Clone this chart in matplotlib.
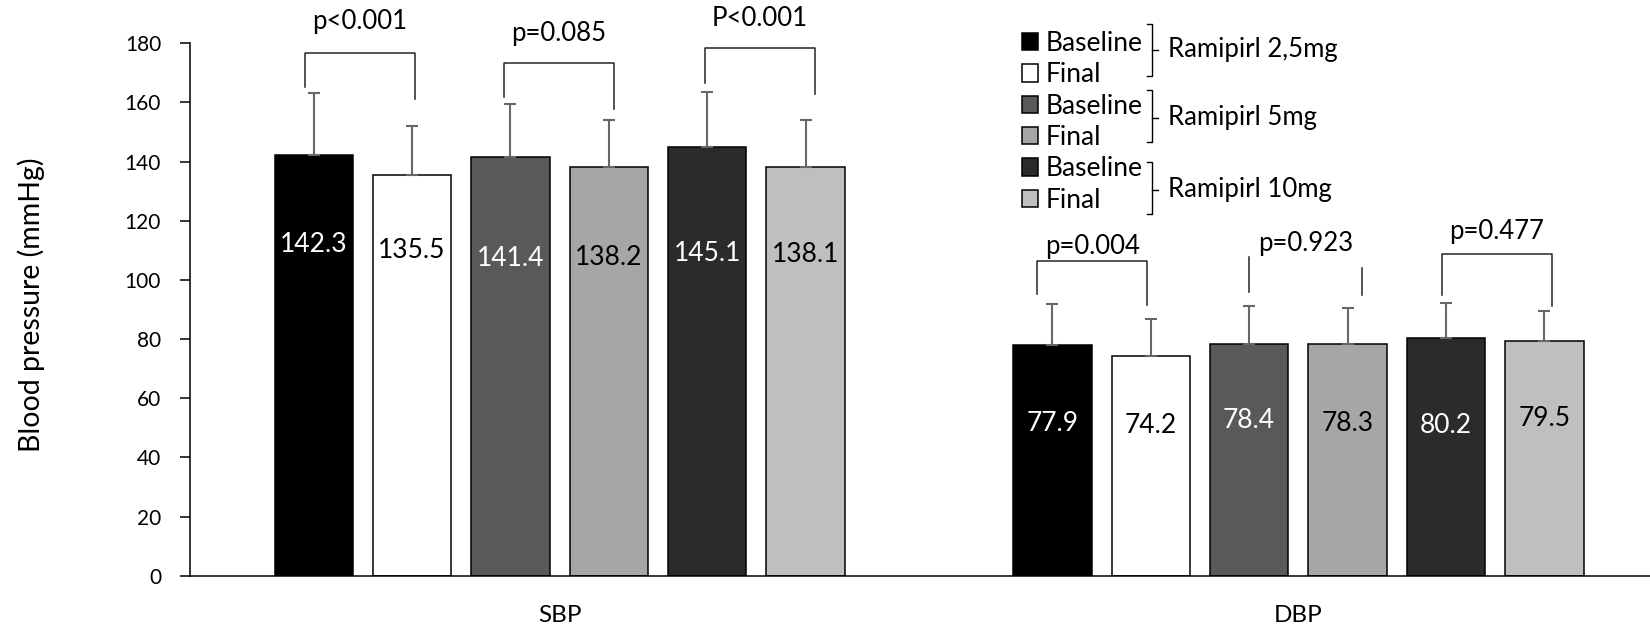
import matplotlib
matplotlib.use('Agg')
import matplotlib.pyplot as plt
from matplotlib.lines import Line2D
from matplotlib.patches import Patch
import numpy as np

plt.rcParams['font.family'] = ['Lato', 'DejaVu Sans']

# data
categories = ['SBP', 'DBP']
series = ['Baseline', 'Final', 'Baseline', 'Final', 'Baseline', 'Final']
doses = ['Ramipirl 2,5mg', 'Ramipirl 5mg', 'Ramipirl 10mg']
sbp_mean = [142.3, 135.5, 141.4, 138.2, 145.1, 138.1]
sbp_sd = [20.8, 16.7, 18.0, 15.8, 18.6, 15.9]
dbp_mean = [77.9, 74.2, 78.4, 78.3, 80.2, 79.5]
dbp_sd = [13.9, 12.6, 12.7, 12.3, 12.1, 10.1]
p_labels = ['p<0.001', 'p=0.085', 'P<0.001', 'p=0.004', 'p=0.923', 'p=0.477']

colors = ['#000000', '#ffffff', '#595959', '#a6a6a6', '#2b2b2b', '#bfbfbf']
text_colors = ['white', 'black', 'white', 'black', 'white', 'black']

W, H = 1650, 631
fig = plt.figure(figsize=(W / 100, H / 100), dpi=100)
ax = fig.add_axes([190.3 / W, 1 - 575.7 / H, (W - 190.3) / W, (575.7 - 43.3) / H])

means = np.array([sbp_mean, dbp_mean])
sds = np.array([sbp_sd, dbp_sd])
cat_x = np.arange(len(categories))
step = 0.1332
width = 0.106

# label heights inside the bars (hand placed in the original)
label_y = [[111.9, 109.8, 107.3, 107.6, 108.8, 108.7],
           [51.6, 50.9, 52.4, 51.6, 50.9, 53.1]]

for i in range(6):
    xs = cat_x + (i - 2.5) * step
    ax.bar(xs, means[:, i], width, color=colors[i], edgecolor='black', linewidth=1.1, zorder=2)
    ax.errorbar(xs, means[:, i], yerr=[np.zeros(2), sds[:, i]], fmt='none',
                ecolor='#676767', elinewidth=1.5, capsize=4.4, capthick=1.5, zorder=3)
    for c in range(2):
        ax.text(xs[c], label_y[c][i], f'{means[c, i]:.1f}', ha='center', va='center',
                fontsize=19, color=text_colors[i], zorder=4)

# significance brackets
leg_off_l = np.array([-8.7, -6.6, -2.3, -15.0, -0.6, -4.0]) / 738.8
leg_off_r = np.array([3.3, 5.0, 9.6, -4.0, 14.6, 7.7]) / 738.8
bot_l = [165.1, 161.7, 166.7, 95.2, 95.9, 94.9]
bot_r = [161.0, 157.8, 162.8, 91.5, 94.8, 91.2]
top_l = [176.8, 173.4, 178.5, 106.4, 107.8, 108.8]
top_r = [176.8, 173.4, 178.5, 106.4, 103.9, 108.8]
bridge = [True, True, True, True, False, True]
p_y = [187.3, 183.4, 188.4, 111.2, 112.4, 116.3]

for k in range(6):
    c = k // 3
    j = k % 3
    xl = cat_x[c] + (2 * j - 2.5) * step + leg_off_l[k]
    xr = cat_x[c] + (2 * j + 1 - 2.5) * step + leg_off_r[k]
    if bridge[k]:
        ax.plot([xl, xl, xr, xr], [bot_l[k], top_l[k], top_r[k], bot_r[k]],
                color='#262626', lw=1.1, clip_on=False, zorder=3)
    else:
        ax.plot([xl, xl], [bot_l[k], top_l[k]], color='#262626', lw=1.1, clip_on=False)
        ax.plot([xr, xr], [bot_r[k], top_r[k]], color='#262626', lw=1.1, clip_on=False)
    ax.text((xl + xr) / 2, p_y[k], p_labels[k], ha='center', va='center',
            fontsize=18.5, clip_on=False)

ax.set_xlim(-0.5, 1.476)
ax.set_ylim(0, 180)
ax.set_yticks(np.arange(0, 181, 20))
ax.set_xticks(cat_x)
ax.set_xticklabels(categories, fontsize=17.5)
ax.tick_params(axis='x', length=0, pad=21)
ax.tick_params(axis='y', labelsize=15, length=7, width=1.1, pad=14)
for s in ['top', 'right']:
    ax.spines[s].set_visible(False)
for s in ['left', 'bottom']:
    ax.spines[s].set_linewidth(1.1)

fig.text(31.6 / W, 1 - 305 / H, 'Blood pressure (mmHg)', rotation=90,
         ha='center', va='center', fontsize=20.5)

# legend
handles = [Patch(facecolor=col, edgecolor='black', linewidth=1.1) for col in colors]
fig.legend(handles, series, loc='upper left', bbox_to_anchor=(1021.7 / W, 1 - 31 / H),
           frameon=False, fontsize=19, handlelength=0.62, handleheight=0.62,
           handletextpad=0.3, labelspacing=0.24, borderpad=0, borderaxespad=0)


def fig_line(xs, ys):
    fig.add_artist(Line2D([x / W for x in xs], [1 - y / H for y in ys],
                          transform=fig.transFigure, color='black', lw=1.0))


groups = [(24, 76, 50), (90, 142, 118), (162, 214, 190)]
for (top, bottom, mid), dose in zip(groups, doses):
    fig_line([1147, 1152, 1152, 1147], [top, top, bottom, bottom])
    fig_line([1152, 1158], [mid, mid])
    fig.text(1168 / W, 1 - mid / H, dose, ha='left', va='center', fontsize=18.5)

fig.savefig('out.png', dpi=100)
